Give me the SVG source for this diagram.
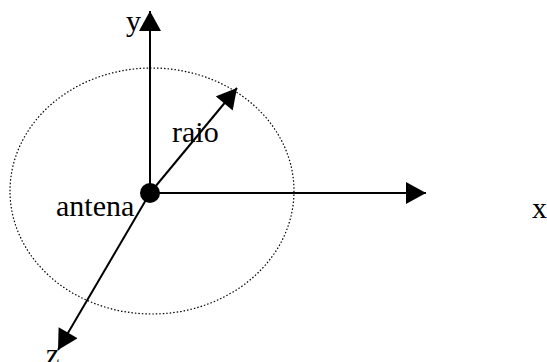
<svg xmlns="http://www.w3.org/2000/svg" width="547" height="362" viewBox="0 0 547 362">
<style>
.ax{stroke:#000;stroke-width:2;fill:none}
.t{font-family:"Liberation Serif",serif;font-size:30px;fill:#000}
</style>
<defs>
<marker id="ah" markerUnits="userSpaceOnUse" markerWidth="22" markerHeight="22" viewBox="0 0 20 22" refX="20" refY="11" orient="auto">
<path d="M0,0 L20,11 L0,22 Z" fill="#000"/>
</marker>
</defs>
<rect width="547" height="362" fill="#fff"/>
<g id="circle">
<ellipse cx="152" cy="191" rx="142" ry="123" fill="none" stroke="#000" stroke-width="1.2" stroke-dasharray="1.5 2"/>
</g>
<g id="connectors">
<line class="ax" x1="150" y1="193" x2="150" y2="11" marker-end="url(#ah)"/>
<line class="ax" x1="150" y1="193" x2="426" y2="193" marker-end="url(#ah)"/>
<line class="ax" x1="150" y1="193" x2="237" y2="88" marker-end="url(#ah)"/>
<line class="ax" x1="150" y1="193" x2="58" y2="350" marker-end="url(#ah)"/>
</g>
<g id="antena">
<circle cx="150" cy="193" r="10" fill="#000"/>
<text class="t" x="56" y="216">antena</text>
</g>
<g id="labels">
<text class="t" x="126" y="31">y</text>
<text class="t" x="172" y="142">raio</text>
<text class="t" x="532" y="218">x</text>
<text class="t" x="46" y="364">z</text>
</g>
</svg>
